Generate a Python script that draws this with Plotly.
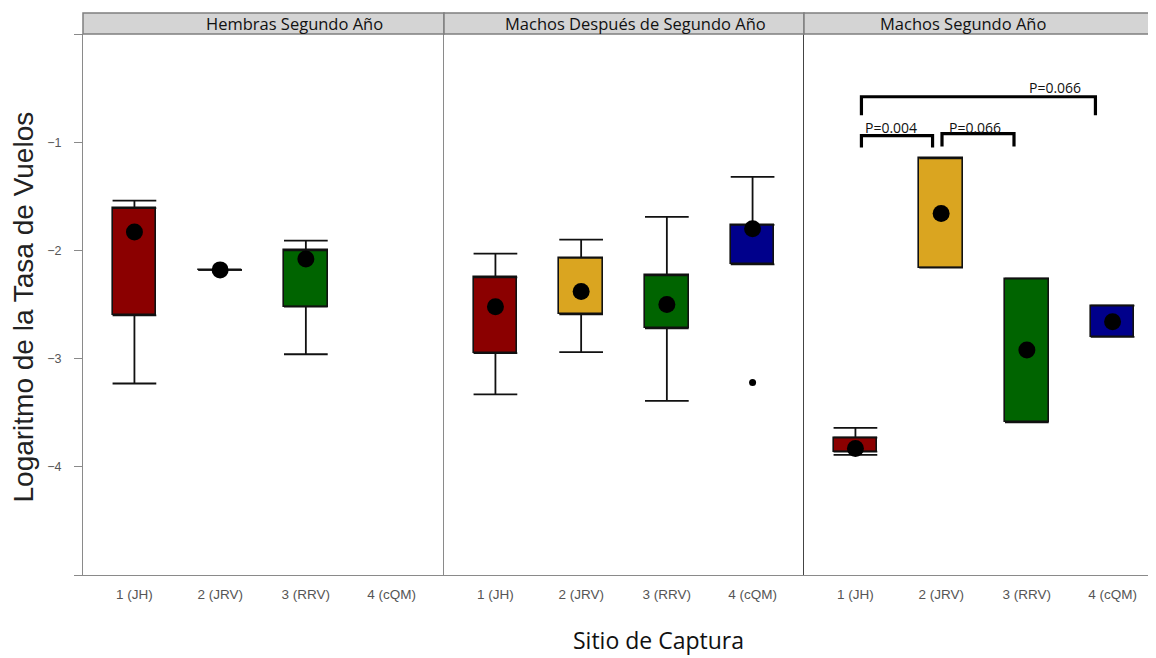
import plotly.graph_objects as go
from plotly.subplots import make_subplots

sites = ["1 (JH)", "2 (JRV)", "3 (RRV)", "4 (cQM)"]
site_pos = [1, 2, 3, 4]
groups = ["Hembras Segundo Año", "Machos Después de Segundo Año", "Machos Segundo Año"]
colors = ["#8B0000", "#DAA520", "#006400", "#00008B"]

# Hembras Segundo Año
hsy_q1 = [-2.60, -2.18, -2.52, None]
hsy_q3 = [-1.61, -2.18, -2.00, None]
hsy_low = [-3.23, -2.18, -2.96, None]
hsy_up = [-1.54, -2.18, -1.91, None]
hsy_mean = [-1.83, -2.18, -2.08, None]
hsy_out = [[], [], [], []]

# Machos Después de Segundo Año
mdsy_q1 = [-2.95, -2.59, -2.72, -2.13]
mdsy_q3 = [-2.25, -2.07, -2.23, -1.765]
mdsy_low = [-3.33, -2.94, -3.39, -2.13]
mdsy_up = [-2.03, -1.90, -1.69, -1.32]
mdsy_mean = [-2.52, -2.38, -2.50, -1.80]
mdsy_out = [[], [], [], [-3.22]]

# Machos Segundo Año
msy_q1 = [-3.86, -2.16, -3.59, -2.80]
msy_q3 = [-3.73, -1.15, -2.26, -2.51]
msy_low = [-3.89, -2.16, -3.59, -2.80]
msy_up = [-3.64, -1.15, -2.26, -2.51]
msy_mean = [-3.83, -1.66, -2.92, -2.66]
msy_out = [[], [], [], []]

# Comparaciones (panel Machos Segundo Año)
brk_x0 = [1.07, 2.01, 1.07]
brk_x1 = [1.90, 2.85, 3.80]
brk_top = [-0.94, -0.92, -0.58]
brk_leg = [-1.05, -1.04, -0.75]
brk_label = ["P=0.004", "P=0.066", "P=0.066"]
brk_label_x = [1.42, 2.39, 3.33]
brk_label_y = [-0.86, -0.86, -0.49]

y_ticks = [-5, -4, -3, -2, -1, 0]
y_ticktext = ["", "−4", "−3", "−2", "−1", ""]

data = [
    (hsy_q1, hsy_q3, hsy_low, hsy_up, hsy_mean, hsy_out),
    (mdsy_q1, mdsy_q3, mdsy_low, mdsy_up, mdsy_mean, mdsy_out),
    (msy_q1, msy_q3, msy_low, msy_up, msy_mean, msy_out),
]

# page body has an 8px margin: the figure is drawn 8px smaller and offset
OFF = 8
W, H = 1156 - OFF, 658 - OFF
ML, MR, MT = 83 - OFF, 0, 34 - OFF
MB = H - (575 - OFF)
PW = W - ML - MR
PH = H - MT - MB
panel_px = [(83 - OFF, 444 - OFF), (444 - OFF, 804 - OFF), (804 - OFF, 1156 - OFF)]
domains = [((a - ML) / PW, (b - ML) / PW) for a, b in panel_px]
px_per_unit = 360 / 4.2
ranges = [[0.4, 0.4 + (b - a) / px_per_unit] for a, b in panel_px]

fig = make_subplots(rows=1, cols=3, shared_yaxes=True, horizontal_spacing=0)

bw = 0.51
cap_half = bw * px_per_unit / 2

for i, (q1, q3, low, up, mean, outs) in enumerate(data):
    col = i + 1
    idx = [k for k, v in enumerate(q1) if v is not None]
    xs = [site_pos[k] for k in idx]
    b_q1 = [q1[k] for k in idx]
    b_q3 = [q3[k] for k in idx]
    b_low = [low[k] for k in idx]
    b_up = [up[k] for k in idx]
    b_mean = [mean[k] for k in idx]
    b_col = [colors[k] for k in idx]

    fig.add_trace(go.Bar(
        x=xs, base=b_q1, y=[t - b for t, b in zip(b_q3, b_q1)],
        width=bw, marker=dict(color=b_col, line=dict(color="#111111", width=1.6)),
        showlegend=False, hoverinfo="skip"), row=1, col=col)

    # upper whiskers
    fig.add_trace(go.Scatter(
        x=xs, y=b_q3, mode="markers", marker=dict(size=1, opacity=0),
        error_y=dict(type="data", symmetric=False,
                     array=[u - t for u, t in zip(b_up, b_q3)],
                     arrayminus=[0] * len(xs),
                     color="#111111", thickness=1.8, width=cap_half),
        showlegend=False, hoverinfo="skip"), row=1, col=col)
    # lower whiskers
    fig.add_trace(go.Scatter(
        x=xs, y=b_q1, mode="markers", marker=dict(size=1, opacity=0),
        error_y=dict(type="data", symmetric=False,
                     array=[0] * len(xs),
                     arrayminus=[b - l for b, l in zip(b_q1, b_low)],
                     color="#111111", thickness=1.8, width=cap_half),
        showlegend=False, hoverinfo="skip"), row=1, col=col)

    # outliers
    ox, oy = [], []
    for k, o in enumerate(outs):
        for v in o:
            ox.append(site_pos[k])
            oy.append(v)
    if ox:
        fig.add_trace(go.Scatter(x=ox, y=oy, mode="markers",
                                 marker=dict(size=7, color="black"),
                                 showlegend=False, hoverinfo="skip"), row=1, col=col)

    # means
    fig.add_trace(go.Scatter(x=xs, y=b_mean, mode="markers",
                             marker=dict(size=17, color="black"),
                             showlegend=False, hoverinfo="skip"), row=1, col=col)

for i in range(3):
    axn = "" if i == 0 else str(i + 1)
    fig.layout["xaxis" + axn].update(
        domain=list(domains[i]), range=ranges[i],
        tickvals=site_pos, ticktext=sites,
        ticks="", showgrid=False, zeroline=False,
        showline=True, linecolor="#8a8a8a", linewidth=1,
        tickfont=dict(family="Liberation Sans", size=13.5, color="#555555"),
        ticklabelstandoff=7)
    fig.layout["yaxis" + axn].update(
        range=[-5, 0], showgrid=False, zeroline=False,
        showline=True, linecolor="#8a8a8a" if i < 2 else "#444444", linewidth=1.2,
        tickvals=y_ticks, ticktext=y_ticktext,
        ticks="outside" if i == 0 else "", ticklen=8, tickcolor="#8a8a8a",
        showticklabels=(i == 0),
        tickfont=dict(family="Liberation Sans", size=12.5, color="#555555"),
        ticklabelstandoff=10)

shapes = []
annotations = []
strip_h = 21 / PH
strip_text_x = [2.87, 2.63, 2.26]
for i in range(3):
    d0, d1 = domains[i]
    shapes.append(dict(type="rect", xref="paper", yref="paper",
                       x0=d0, x1=d1, y0=1, y1=1 + strip_h,
                       fillcolor="#d4d4d4", line=dict(color="#7f7f7f", width=1.5)))
    axn = "" if i == 0 else str(i + 1)
    annotations.append(dict(text=groups[i], xref="x" + axn, yref="paper",
                            x=strip_text_x[i], y=1 + strip_h / 2,
                            xanchor="center", yanchor="middle", showarrow=False,
                            font=dict(family="Open Sans", size=16.5, color="#111111")))

for x0, x1, yt, yl, lab, lx, ly in zip(brk_x0, brk_x1, brk_top, brk_leg,
                                       brk_label, brk_label_x, brk_label_y):
    shapes.append(dict(type="path", xref="x3", yref="y3",
                       path=f"M {x0},{yl} L {x0},{yt} L {x1},{yt} L {x1},{yl}",
                       line=dict(color="black", width=3.2)))
    annotations.append(dict(text=lab, xref="x3", yref="y3", x=lx, y=ly,
                            xanchor="center", yanchor="middle", showarrow=False,
                            font=dict(family="Open Sans", size=14, color="#111111")))

annotations.append(dict(text="Logaritmo de la Tasa de Vuelos", textangle=-90,
                        xref="paper", yref="paper", x=(23 - 83) / PW, y=(575 - 307.5) / PH,
                        xanchor="center", yanchor="middle", showarrow=False,
                        font=dict(family="Liberation Sans", size=28, color="#222222")))
annotations.append(dict(text="Sitio de Captura",
                        xref="paper", yref="paper", x=(658 - 83) / PW, y=-(640 - 575) / PH,
                        xanchor="center", yanchor="middle", showarrow=False,
                        font=dict(family="Open Sans", size=23, color="#111111")))

fig.update_layout(
    width=W, height=H,
    margin=dict(l=ML, r=MR, t=MT, b=MB),
    plot_bgcolor="white", paper_bgcolor="white",
    shapes=shapes, annotations=annotations,
    showlegend=False, bargap=0,
)

fig.write_html("out.html")
